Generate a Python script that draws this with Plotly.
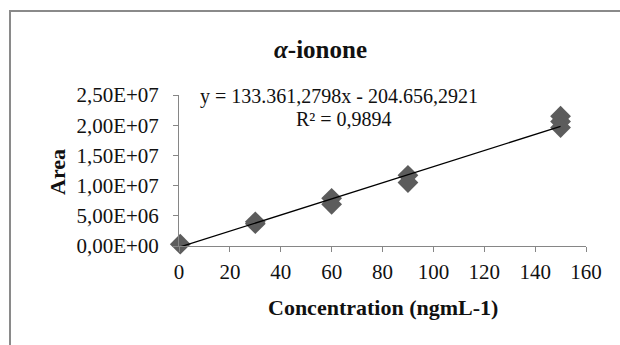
import plotly.graph_objects as go

# Data
conc = [0.5, 30, 30, 60, 60, 90, 90, 150, 150, 150]
area = [0.3e6, 3.7e6, 4.0e6, 7.9e6, 6.9e6, 11.7e6, 10.5e6, 21.5e6, 20.6e6, 19.6e6]
slope = 133361.2798
intercept = -204656.2921
x_ticks = [0, 20, 40, 60, 80, 100, 120, 140, 160]
y_ticks = [0, 5e6, 1e7, 1.5e7, 2e7, 2.5e7]
y_tick_labels = ["0,00E+00", "5,00E+06", "1,00E+07", "1,50E+07", "2,00E+07", "2,50E+07"]
title_text = "<i>α</i>-ionone"
eq_text = "y = 133.361,2798x - 204.656,2921"
r2_text = "R² = 0,9894"

W, H = 620, 345
L, R, T, B = 179, 34, 95, 99
pw, ph = W - L - R, H - T - B

def px_x(px):
    return (px - L) / pw

def px_y(py):
    return (H - B - py) / ph

serif = "Liberation Serif, Times New Roman, serif"

trend_x = [min(conc), max(conc)]
trend_y = [slope * v + intercept for v in trend_x]

fig = go.Figure()
fig.add_trace(go.Scatter(
    x=conc, y=area, mode="markers",
    marker=dict(symbol="diamond", size=16, color="#5c5c5c", line=dict(width=0)),
    cliponaxis=False, showlegend=False,
))
fig.add_trace(go.Scatter(
    x=trend_x, y=trend_y, mode="lines",
    line=dict(color="#000000", width=1.3),
    cliponaxis=False, showlegend=False,
))

axis_common = dict(
    showgrid=False, zeroline=False, showline=True, linecolor="#868686", linewidth=1,
    ticks="outside", ticklen=5, tickcolor="#868686", tickwidth=1,
    tickfont=dict(family=serif, size=21, color="#111111"),
)
fig.update_xaxes(range=[0, 160], tickvals=x_ticks, ticklabelstandoff=2, **axis_common)
fig.update_yaxes(range=[0, 2.5e7], tickvals=y_ticks, ticktext=y_tick_labels,
                 ticklabelstandoff=10, **axis_common)

fig.update_layout(
    width=W, height=H,
    margin=dict(l=L, r=R, t=T, b=B, pad=0),
    paper_bgcolor="white", plot_bgcolor="white",
    showlegend=False,
    shapes=[dict(type="rect", xref="paper", yref="paper",
                 x0=px_x(10), x1=px_x(640), y0=px_y(365), y1=px_y(11),
                 line=dict(color="#8a8a8a", width=2), fillcolor="rgba(0,0,0,0)", layer="below")],
    annotations=[
        dict(text="<b>" + title_text + "</b>", x=px_x(320), y=px_y(49), xref="paper", yref="paper",
             showarrow=False, xanchor="center", yanchor="middle",
             font=dict(family=serif, size=25, color="#111111")),
        dict(text=eq_text, x=px_x(339), y=px_y(96), xref="paper", yref="paper",
             showarrow=False, xanchor="center", yanchor="middle",
             font=dict(family=serif, size=20, color="#111111")),
        dict(text=r2_text, x=px_x(344), y=px_y(119), xref="paper", yref="paper",
             showarrow=False, xanchor="center", yanchor="middle",
             font=dict(family=serif, size=20, color="#111111")),
        dict(text="<b>Concentration (ngmL-1)</b>", x=px_x(383), y=px_y(307), xref="paper", yref="paper",
             showarrow=False, xanchor="center", yanchor="middle",
             font=dict(family=serif, size=22, color="#111111")),
        dict(text="<b>Area</b>", x=px_x(57), y=px_y(172), xref="paper", yref="paper",
             showarrow=False, xanchor="center", yanchor="middle", textangle=-90,
             font=dict(family=serif, size=22, color="#111111")),
    ],
)

fig.write_html("out.html")
